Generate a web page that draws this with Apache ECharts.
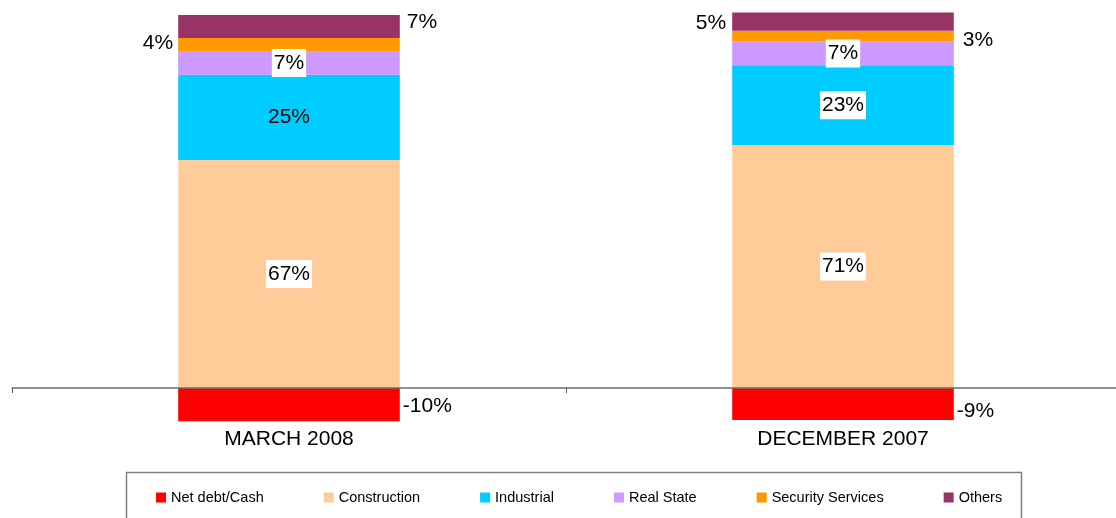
<!DOCTYPE html>
<html>
<head>
<meta charset="utf-8">
<script src="https://cdn.jsdelivr.net/npm/echarts@6/dist/echarts.min.js"></script>
<style>
  html, body { margin: 0; padding: 0; background: #fff; }
  #chart { width: 1116px; height: 518px; }
</style>
</head>
<body>
<div id="chart"></div>
<script>
  var categories = ['MARCH 2008', 'DECEMBER 2007'];
  var seriesNames = ['Net debt/Cash', 'Construction', 'Industrial', 'Real State', 'Security Services', 'Others'];
  var netDebt = [-9.8, -9.4];
  var construction = [67, 71.4];
  var industrial = [25, 23.4];
  var realState = [7, 7];
  var security = [3.8, 3.2];
  var others = [6.8, 5.3];
  var colors = ['#ff0000', '#ffcc99', '#00ccff', '#cc99ff', '#ff9900', '#993366'];

  var font = "'Liberation Sans', Arial, sans-serif";
  var boxed = { backgroundColor: '#fff', padding: [2, 2] };

  // label placement for each series, one entry per category
  var placement = [
    [{ position: 'right', distance: 3, offset: [0, 2] }, { position: 'right', distance: 3, offset: [0, 7] }],
    [boxed, boxed],
    [{}, boxed],
    [boxed, boxed],
    [{ position: 'left', distance: 5, offset: [0, -1] }, { position: 'right', distance: 9, offset: [0, 4] }],
    [{ position: 'right', distance: 7, offset: [0, -4] }, { position: 'left', distance: 6, offset: [0, 2] }]
  ];

  function items(values, idx) {
    return values.map(function (v, i) {
      return { value: v, label: placement[idx][i] };
    });
  }

  var allValues = [netDebt, construction, industrial, realState, security, others];

  var series = allValues.map(function (values, idx) {
    return {
      name: seriesNames[idx],
      type: 'bar',
      stack: 'total',
      barWidth: '40%',
      itemStyle: { color: colors[idx] },
      label: {
        show: true,
        position: 'inside',
        color: '#000',
        fontFamily: font,
        fontSize: 21,
        lineHeight: 24,
        formatter: function (p) { return Math.round(p.value) + '%'; }
      },
      emphasis: { disabled: true },
      data: items(values, idx)
    };
  });

  var chart = echarts.init(document.getElementById('chart'));
  chart.setOption({
    animation: false,
    color: colors,
    grid: { left: 12, width: 1108, top: 0, height: 456, outerBoundsMode: 'none' },
    xAxis: {
      type: 'category',
      data: categories,
      z: 5,
      axisLine: { lineStyle: { color: '#6f6f6f', width: 1.5 } },
      axisTick: { show: true, length: 5, lineStyle: { color: '#555', width: 1 } },
      axisLabel: { margin: -27, color: '#000', fontFamily: font, fontSize: 21 }
    },
    yAxis: {
      type: 'value',
      min: -20,
      max: 114,
      show: false,
      splitLine: { show: false }
    },
    legend: {
      data: seriesNames,
      left: 156,
      top: 490,
      padding: 0,
      itemGap: 60,
      itemWidth: 10,
      itemHeight: 10,
      icon: 'rect',
      selectedMode: false,
      textStyle: { color: '#000', fontFamily: font, fontSize: 14.5 }
    },
    graphic: [{
      type: 'rect',
      shape: { x: 126.5, y: 472.5, width: 895, height: 60 },
      style: { fill: 'none', stroke: '#7f7f7f', lineWidth: 1.5 },
      silent: true
    }],
    series: series
  });
</script>
</body>
</html>
